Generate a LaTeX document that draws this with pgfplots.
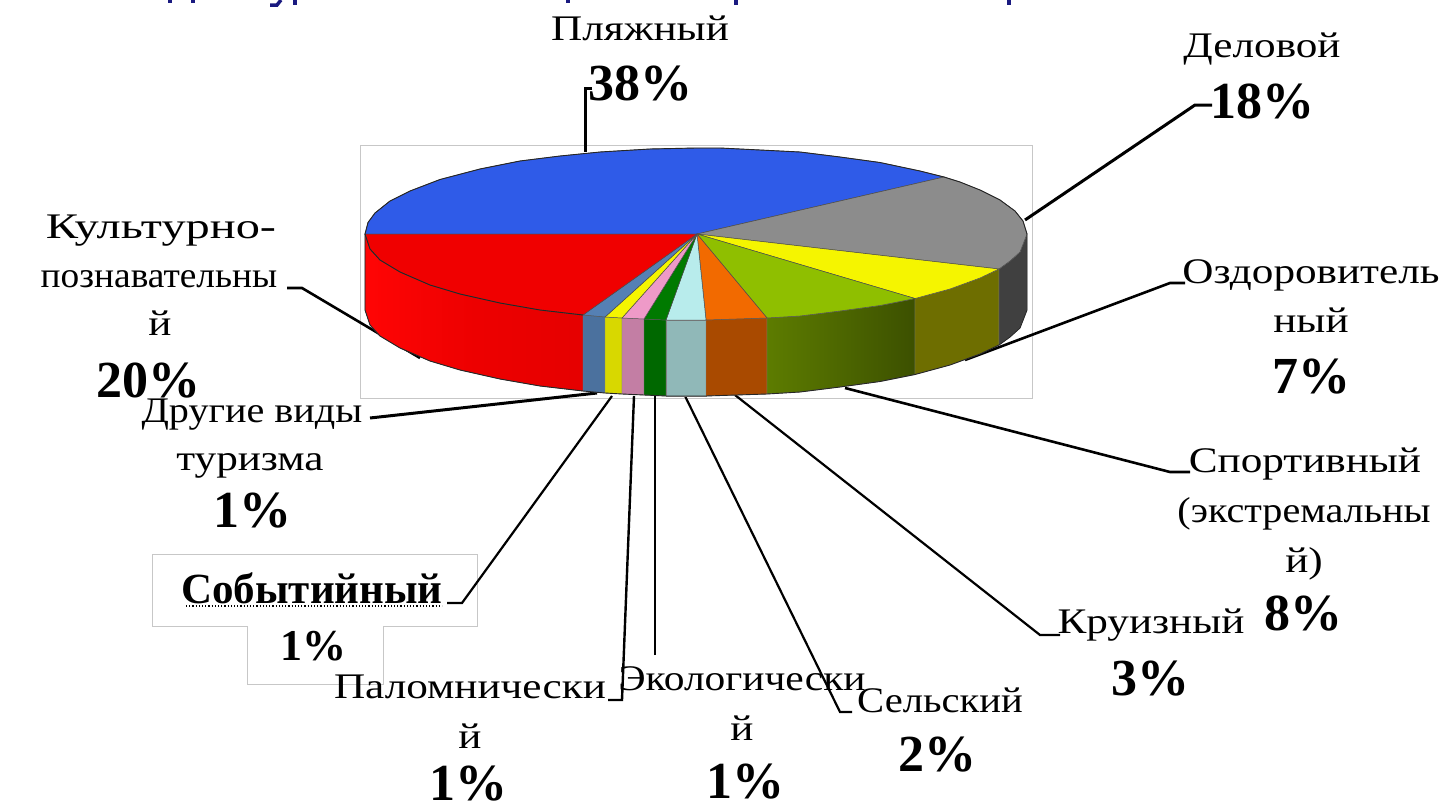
\documentclass[border=0pt]{standalone}
\usepackage{fontspec}
\setmainfont{Liberation Serif}
\newfontfamily\labf[FakeStretch=1.2]{Liberation Serif}
\newfontfamily\numf{Liberation Serif}[BoldFont={Liberation Serif Bold}]
\usepackage{pgfplots}
\pgfplotsset{compat=1.18}
\definecolor{cblue}{HTML}{2F5BE8}
\definecolor{cgrey}{HTML}{8C8C8C}
\definecolor{cyel}{HTML}{F5F500}
\definecolor{clime}{HTML}{8FBF00}
\definecolor{corg}{HTML}{F26A00}
\definecolor{ccyan}{HTML}{B8ECEC}
\definecolor{cgrn}{HTML}{007A00}
\definecolor{cpink}{HTML}{EE9AC8}
\definecolor{cstl}{HTML}{5580B4}
\definecolor{cred}{HTML}{F00000}
\definecolor{navyt}{HTML}{1A1A80}
\newcommand{\lab}[3]{\node[anchor=base,inner sep=0pt,text=black] at (axis cs:#1,#2) {\labf\fontsize{36}{36}\selectfont #3};}
\newcommand{\labx}[4]{\node[anchor=base,inner sep=0pt,text=black] at (axis cs:#1,#2) {\scalebox{#3}[1]{\labf\fontsize{36}{36}\selectfont #4}};}
\newcommand{\num}[3]{\node[anchor=base,inner sep=0pt,text=black] at (axis cs:#1,#2) {\numf\bfseries\fontsize{52}{52}\selectfont #3};}
\begin{document}
\begin{tikzpicture}
\path[use as bounding box] (0,0) rectangle (1441pt,811pt);
\begin{axis}[at={(0,0)},anchor=south west,scale only axis,width=1441pt,height=811pt,
  xmin=0,xmax=1441,ymin=0,ymax=811,y dir=reverse,hide axis,clip=false,
  every axis plot/.append style={mark=none}]
% title fragments (cut by the upper edge)
\addplot[navyt,line width=3.5pt] coordinates {(170,0)(170,3)};
\addplot[navyt,line width=3.5pt] coordinates {(193,0)(193,3)};
\addplot[navyt,line width=3.5pt] coordinates {(270,5)(277,5)(281,0)};
\addplot[navyt,line width=3.5pt] coordinates {(295,0)(295,5)};
\addplot[navyt,line width=3.5pt] coordinates {(568,0)(568,3)};
\addplot[navyt,line width=3.5pt] coordinates {(736,0)(736,5)};
\addplot[navyt,line width=3.5pt] coordinates {(1009,0)(1009,5)};
% frames
\addplot[draw=black!22,line width=1pt,fill=white] coordinates {(360,145)(1032,145)(1032,398)(360,398)(360,145)};
\addplot[draw=black!22,line width=1pt,fill=white] coordinates {(152,554)(477,554)(477,626)(383,626)(383,684)(247,684)(247,626)(152,626)(152,554)};
% leader lines
\addplot[black,line width=3pt] coordinates {(592,88)(585,88)(585,152)};
\addplot[black,line width=3pt] coordinates {(1212,105)(1195,105)(1025,220)};
\addplot[black,line width=2.6pt] coordinates {(1185,283)(1170,283)(965,360)};
\addplot[black,line width=2.6pt] coordinates {(1190,472)(1170,472)(845,388)};
\addplot[black,line width=2.2pt] coordinates {(1060,635)(1040,635)(735,395)};
\addplot[black,line width=2.2pt] coordinates {(852,712)(840,712)(685,396)};
\addplot[black,line width=2.6pt] coordinates {(655,655)(655,395)};
\addplot[black,line width=2.4pt] coordinates {(608,700)(622,700)(634,396)};
\addplot[black,line width=2.2pt] coordinates {(447,603)(462,603)(612,396)};
\addplot[black,line width=3pt] coordinates {(370,418)(597,393)};
\addplot[black,line width=2.6pt] coordinates {(287,288)(302,288)(420,358)};
% sides
\addplot[draw=black!70,line width=0.4pt,left color=red!98!white,right color=black!10!red,middle color=red!93!black] coordinates {(365,234)(370,249)(380,260)(400,272)(430,285)(460,294)(500,303)(540,310)(583,315)(583,391)(540,386)(500,379)(460,370)(430,361)(400,348)(380,336)(370,325)(365,310)(365,234)};
\addplot[draw=black!50,line width=0.4pt,fill=cstl!88!black] coordinates {(583,315)(605,317)(605,393)(583,391)(583,315)};
\addplot[draw=black!50,line width=0.4pt,fill=cyel!88!black] coordinates {(605,317)(622,318)(622,394)(605,393)(605,317)};
\addplot[draw=black!50,line width=0.4pt,fill=cpink!82!black] coordinates {(622,318)(644,319)(644,395)(622,394)(622,318)};
\addplot[draw=black!50,line width=0.4pt,fill=cgrn!85!black] coordinates {(644,319)(666,320)(666,396)(644,395)(644,319)};
\addplot[draw=black!50,line width=0.4pt,fill=ccyan!78!black] coordinates {(666,320)(706,320)(706,396)(666,396)(666,320)};
\addplot[draw=black!50,line width=0.4pt,fill=corg!70!black] coordinates {(706,320)(767,318)(767,394)(706,396)(706,320)};
\addplot[draw=black!50,line width=0.4pt,left color=clime!65!black,right color=clime!42!black] coordinates {(767,318)(800,316)(840,311)(880,305.5)(915,298.5)(915,374.5)(880,381.5)(840,387)(800,392)(767,394)(767,318)};
\addplot[draw=black!50,line width=0.4pt,fill=cyel!45!black] coordinates {(915,298.5)(950,289)(980,278)(999,269)(999,345)(980,354)(950,365)(915,374.5)(915,298.5)};
\addplot[draw=black!50,line width=0.4pt,fill=black!75] coordinates {(999,269)(1010,261)(1020,252)(1027,234)(1027,310)(1020,328)(1010,337)(999,345)(999,269)};
% tops
\addplot[draw=black!70,line width=0.5pt,fill=cblue] coordinates {(697,234)(944,177)(920,171)(880,162.5)(840,157)(800,152)(760,150)(720,148)(696,148)(650,149)(600,152)(560,156)(520,161)(480,169)(440,179.5)(410,191)(390,201)(375,213)(368,222.5)(365,234)(697,234)};
\addplot[draw=black!70,line width=0.5pt,fill=cgrey] coordinates {(697,234)(944,177)(960,182)(980,190)(1000,200)(1015,211)(1023,221)(1027,234)(1020,252)(1010,261)(999,269)(697,234)};
\addplot[draw=black!70,line width=0.5pt,fill=cyel] coordinates {(697,234)(999,269)(980,278)(950,289)(915,298.5)(697,234)};
\addplot[draw=black!70,line width=0.5pt,fill=clime] coordinates {(697,234)(915,298.5)(880,305.5)(840,311)(800,316)(767,318)(697,234)};
\addplot[draw=black!70,line width=0.5pt,fill=corg] coordinates {(697,234)(767,318)(706,320)(697,234)};
\addplot[draw=black!70,line width=0.5pt,fill=ccyan] coordinates {(697,234)(706,320)(666,320)(697,234)};
\addplot[draw=black!70,line width=0.5pt,fill=cgrn] coordinates {(697,234)(666,320)(644,319)(697,234)};
\addplot[draw=black!70,line width=0.5pt,fill=cpink] coordinates {(697,234)(644,319)(622,318)(697,234)};
\addplot[draw=black!70,line width=0.5pt,fill=cyel] coordinates {(697,234)(622,318)(605,317)(697,234)};
\addplot[draw=black!70,line width=0.5pt,fill=cstl] coordinates {(697,234)(605,317)(583,315)(697,234)};
\addplot[draw=black!70,line width=0.5pt,fill=cred] coordinates {(697,234)(583,315)(540,310)(500,303)(460,294)(430,285)(400,272)(380,260)(370,249)(365,234)(697,234)};
% outer outlines
\addplot[black!85,line width=0.9pt] coordinates {(1027,234)(1023,221)(1015,211)(1000,200)(980,190)(960,182)(944,177)(920,171)(880,162.5)(840,157)(800,152)(760,150)(720,148)(696,148)(650,149)(600,152)(560,156)(520,161)(480,169)(440,179.5)(410,191)(390,201)(375,213)(368,222.5)(365,234)(370,249)(380,260)(400,272)(430,285)(460,294)(500,303)(540,310)(583,315)};
\addplot[black!85,line width=0.9pt] coordinates {(365,234)(365,310)(370,325)(380,336)(400,348)(430,361)(460,370)(500,379)(540,386)(583,391)(605,393)(622,394)(644,395)(666,396)(706,396)(767,394)(800,392)(840,387)(880,381.5)(915,374.5)(950,365)(980,354)(999,345)(1010,337)(1020,328)(1027,310)(1027,234)};
% labels
\lab{640}{40}{Пляжный}
\num{640}{100}{38\%}
\lab{1262}{57}{Деловой}
\num{1262}{118}{18\%}
\labx{161}{238}{1.12}{Культурно-}
\labx{159}{287}{0.865}{познавательны}
\lab{160}{335}{й}
\num{148}{397}{20\%}
\labx{252}{422}{0.93}{Другие виды}
\lab{250}{470}{туризма}
\num{252}{527}{1\%}
\node[anchor=base,inner sep=0pt] at (axis cs:312,603) {\numf\bfseries\fontsize{43}{43}\selectfont Событийный};
\node[anchor=base,inner sep=0pt] at (axis cs:313,660) {\numf\bfseries\fontsize{44}{44}\selectfont 1\%};
\addplot[black,line width=1.2pt,dotted] coordinates {(186,606)(442,606)};
\lab{470}{698}{Паломнически}
\lab{470}{748}{й}
\num{468}{800}{1\%}
\labx{742}{690}{0.96}{Экологически}
\lab{742}{740}{й}
\num{745}{798}{1\%}
\labx{940}{712}{0.94}{Сельский}
\num{937}{771}{2\%}
\lab{1151}{633}{Круизный}
\num{1150}{695}{3\%}
\lab{1305}{472}{Спортивный}
\labx{1304}{522}{0.93}{(экстремальны}
\lab{1304}{572}{й)}
\num{1303}{630}{8\%}
\lab{1311}{283}{Оздоровитель}
\lab{1311}{332}{ный}
\num{1311}{393}{7\%}
\end{axis}
\end{tikzpicture}
\end{document}
